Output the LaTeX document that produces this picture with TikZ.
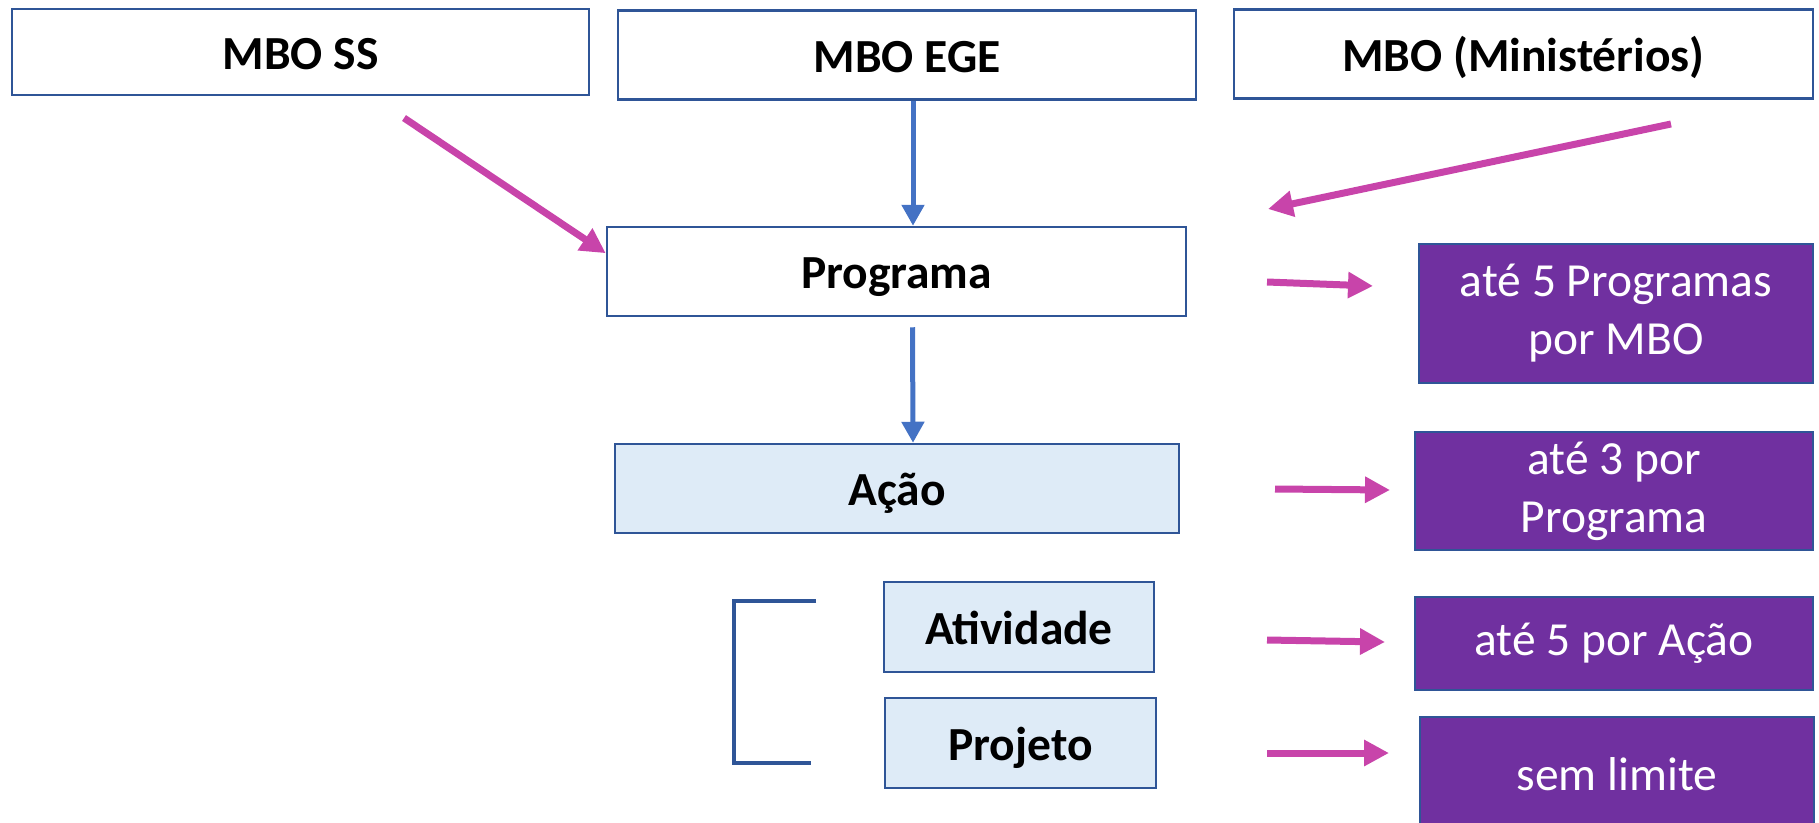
\documentclass[tikz,border=0pt]{standalone}
\usepackage{fontspec}
\setmainfont{Carlito}
\usetikzlibrary{arrows.meta,calc}
\definecolor{bordblue}{RGB}{47,85,151}
\definecolor{lightfill}{RGB}{222,235,247}
\definecolor{purplebox}{RGB}{112,48,160}
\definecolor{pinkarr}{RGB}{200,68,170}
\definecolor{bluearr}{RGB}{68,114,196}
\tikzset{
  whitebox/.style={draw=bordblue, line width=2.5pt, fill=white, inner sep=0pt, text height=34pt, text depth=0pt, font=\fontsize{47.5}{57}\selectfont\bfseries},
  lightbox/.style={whitebox, fill=lightfill},
  purpbox/.style={draw=bordblue, line width=2pt, fill=purplebox, inner sep=0pt, text=white, align=center, font=\fontsize{47.5}{58}\selectfont},
  pinkarrow/.style={draw=pinkarr, line width=7pt, -{Triangle[length=25pt,width=25pt]}},
  bluearrow/.style={draw=bluearr, line width=5pt, -{Triangle[length=21pt,width=22pt]}},
  bracketline/.style={draw=bordblue, line width=4pt}
}
\begin{document}
\begin{tikzpicture}[x=1pt,y=-1pt]
\useasboundingbox (0,0) rectangle (1819,822);
% top boxes
\node[whitebox, minimum width=577pt, minimum height=86pt] (ss) at (300.5,52) {MBO SS};
\node[whitebox, minimum width=578pt, minimum height=89pt] (ege) at (907,55) {MBO EGE};
\node[whitebox, minimum width=579pt, minimum height=89pt] (min) at (1523.5,54) {MBO (Ministérios)};
% hierarchy
\node[whitebox, minimum width=579pt, minimum height=89pt] (prog) at (896.5,271.5) {Programa};
\node[lightbox, minimum width=564pt, minimum height=89pt] (acao) at (897,488.5) {Ação};
\node[lightbox, minimum width=270pt, minimum height=90pt] (ativ) at (1019,627) {Atividade};
\node[lightbox, minimum width=271pt, minimum height=90pt] (proj) at (1020.5,743) {Projeto};
% purple boxes
\node[purpbox, minimum width=394pt, minimum height=139pt] (p1) at (1616,313.5) {até 5 Programas\\por MBO};
\node[purpbox, minimum width=398pt, minimum height=118pt] (p2) at (1614,491) {até 3 por\\Programa};
\node[purpbox, minimum width=398pt, minimum height=93pt] (p3) at (1614,643.5) {até 5 por Ação};
\node[purpbox, minimum width=394pt, minimum height=114pt] (p4) at (1617,774) {sem limite};
% free ends
\coordinate (ssa) at (404,118);
\coordinate (mina) at (1671,124);
\coordinate (minb) at (1268,209);
\coordinate (r1a) at (1267,282);
\coordinate (r1b) at (1373,286);
\coordinate (r2a) at (1275,489);
\coordinate (r2b) at (1390,490);
\coordinate (r3a) at (1267,640);
\coordinate (r3b) at (1385,642);
\coordinate (r4a) at (1267,753);
\coordinate (r4b) at (1389,753);
\coordinate (bk1) at (816,601);
\coordinate (bk2) at (734,601);
\coordinate (bk3) at (734,763);
\coordinate (bk4) at (811,763);
% connectors
\draw[pinkarrow] (ssa) -- ($(prog.north west)!0.3!(prog.south west)$);
\draw[bluearrow] ([xshift=6pt]ege.south) -- ([xshift=6pt]ege.south |- prog.north);
\draw[pinkarrow] (mina) -- (minb);
\draw[bluearrow] ([shift={(16,10)}]prog.south) -- ([xshift=16pt]acao.north);
\draw[pinkarrow] (r1a) -- (r1b);
\draw[pinkarrow] (r2a) -- (r2b);
\draw[pinkarrow] (r3a) -- (r3b);
\draw[pinkarrow] (r4a) -- (r4b);
\draw[bracketline] (bk1) -- (bk2) -- (bk3) -- (bk4);
\end{tikzpicture}
\end{document}
